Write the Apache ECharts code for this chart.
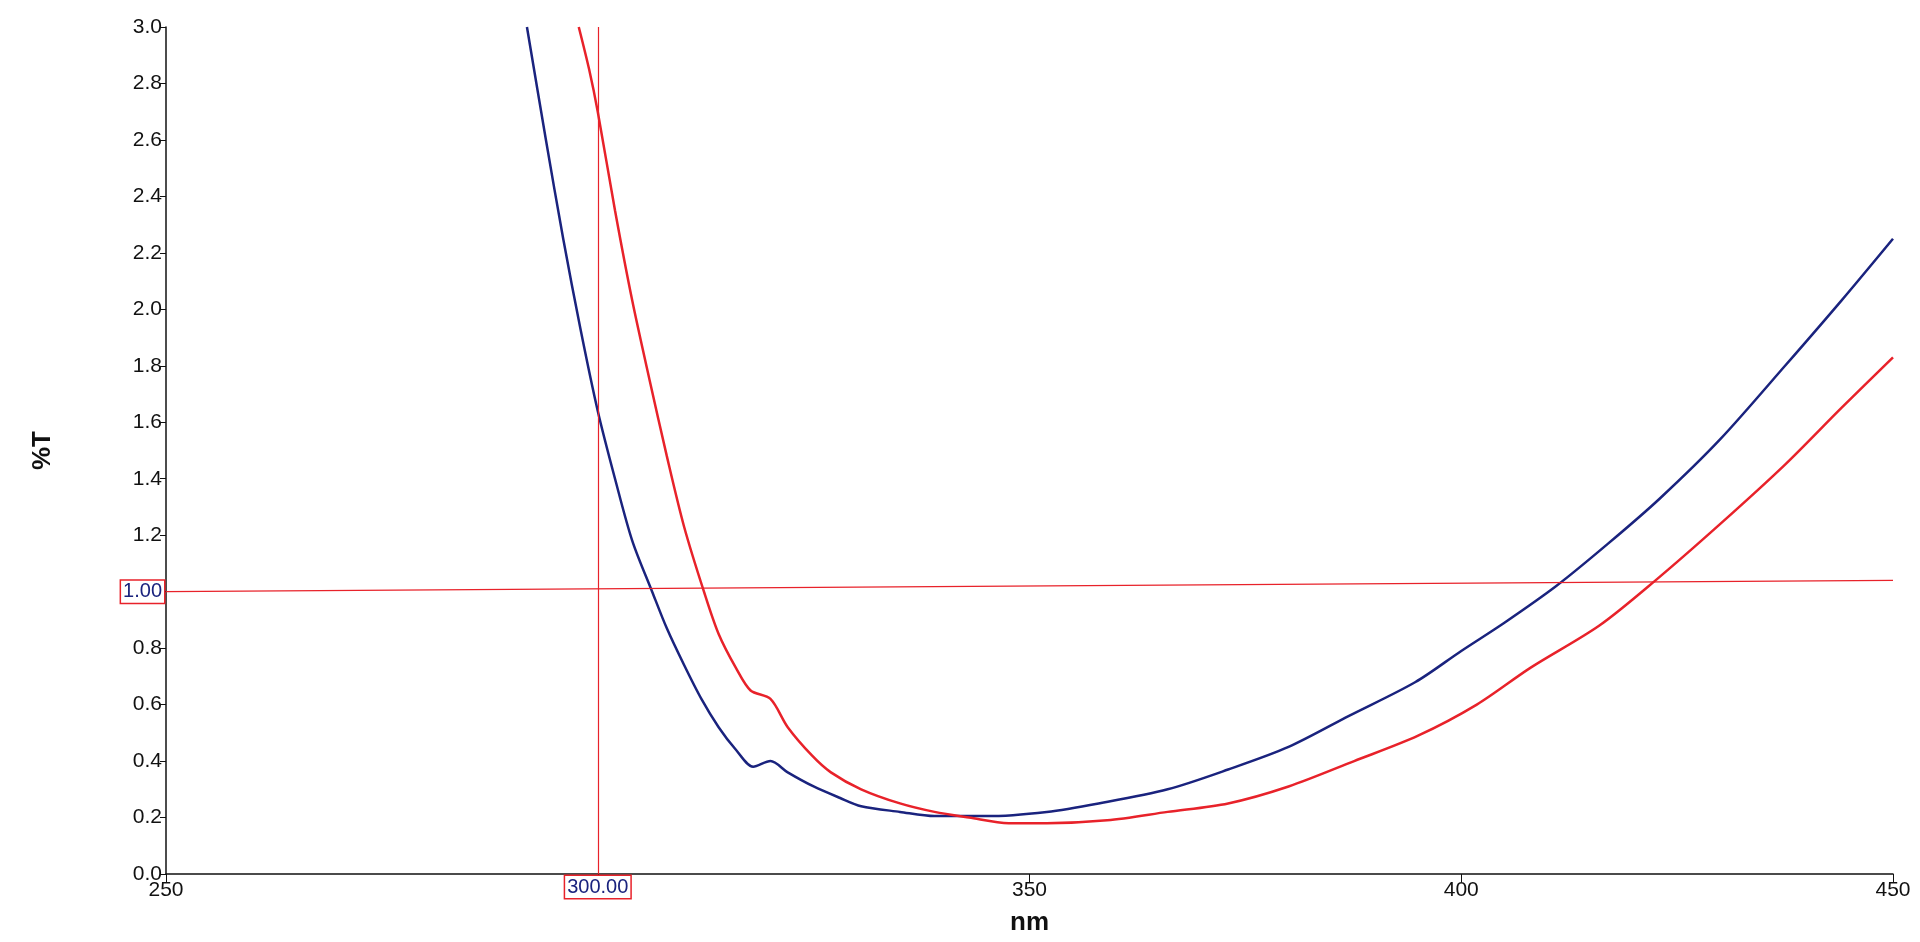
<!DOCTYPE html>
<html><head><meta charset="utf-8">
<script src="https://cdn.jsdelivr.net/npm/echarts@6/dist/echarts.min.js"></script>
<style>html,body{margin:0;background:#fff}#c{width:1920px;height:942px}</style>
</head><body><div id="c"></div>
<script>
const blueX = [291.8,294,296,298,300,302,304,306.3,308,310,312,314,316,318,320,322,325,328,330.5,335,339,345,352,358,366,373,380,387,394.7,400,405,411,417,423,430,437.5,444,450];
const blueY = [3.0,2.6,2.25,1.93,1.64,1.4,1.18,1.0,0.87,0.74,0.62,0.52,0.44,0.38,0.40,0.36,0.31,0.27,0.24,0.22,0.205,0.205,0.22,0.25,0.30,0.37,0.45,0.56,0.68,0.79,0.89,1.02,1.17,1.33,1.54,1.80,2.03,2.25];
const redX = [297.8,299,300,302,304,306,308,310,312.3,314,316,317.7,320,322,324.8,327,330.5,335,339,343,347.6,352,359,366,373,380,387.6,395,401.8,408,416,422.5,430,437.5,444,450];
const redY = [3.0,2.85,2.7,2.35,2.03,1.75,1.48,1.23,1.0,0.85,0.73,0.65,0.62,0.52,0.42,0.36,0.30,0.25,0.22,0.20,0.18,0.18,0.19,0.22,0.25,0.31,0.40,0.49,0.60,0.73,0.88,1.04,1.24,1.45,1.65,1.83];
const yTicks = [0,0.2,0.4,0.6,0.8,1.0,1.2,1.4,1.6,1.8,2.0,2.2,2.4,2.6,2.8,3.0];
const xTicks = [250,300,350,400,450];
const cursorX = 300, cursorY = 1.0;

const pair = (xs, ys) => xs.map((x, i) => [x, ys[i]]);
const chart = echarts.init(document.getElementById('c'));
const font = 'Liberation Sans, Arial, sans-serif';
chart.setOption({
  animation: false,
  backgroundColor: '#fff',
  grid: {left: 166, right: 27, top: 27, bottom: 68},
  xAxis: {
    type: 'value', min: 250, max: 450, interval: 50,
    name: 'nm', nameLocation: 'middle', nameGap: 36,
    nameTextStyle: {fontFamily: font, fontSize: 26, fontWeight: 'bold', color: '#111'},
    axisLine: {lineStyle: {color: '#111', width: 1.5}},
    axisTick: {show: true, length: 8, lineStyle: {color: '#111'}},
    axisLabel: {fontFamily: font, fontSize: 21, color: '#111', margin: 6,
      formatter: v => xTicks.includes(v) ? String(v) : ''},
    splitLine: {show: false}
  },
  yAxis: {
    type: 'value', min: 0, max: 3.0, interval: 0.2,
    name: '%T', nameLocation: 'middle', nameGap: 110, nameRotate: 90,
    nameTextStyle: {fontFamily: font, fontSize: 26, fontWeight: 'bold', color: '#111'},
    axisLine: {show: true, lineStyle: {color: '#111', width: 1.5}},
    axisTick: {show: true, length: 6, lineStyle: {color: '#111'}},
    axisLabel: {fontFamily: font, fontSize: 21, color: '#111', margin: 4,
      formatter: v => { const t = yTicks.find(k => Math.abs(k - v) < 1e-6); return t === undefined ? '' : t.toFixed(1); }},
    splitLine: {show: false}
  },
  series: [
    {type: 'line', data: pair(blueX, blueY), smooth: 0.3, showSymbol: false,
     lineStyle: {color: '#1a237e', width: 2.5}, z: 3},
    {type: 'line', data: pair(redX, redY), smooth: 0.3, showSymbol: false,
     lineStyle: {color: '#e8222a', width: 2.5}, z: 3,
     markLine: {
       silent: true, symbol: 'none', animation: false,
       lineStyle: {color: '#e8222a', width: 1.2, type: 'solid'},
       label: {show: true, fontFamily: font, fontSize: 20, color: '#1a237e',
         backgroundColor: '#fff', borderColor: '#e8222a', borderWidth: 1.5, padding: [1, 2]},
       data: [
         [{coord: [250, cursorY], label: {position: 'start', formatter: cursorY.toFixed(2), distance: 2}},
          {coord: [450, 1.04]}],
         {xAxis: cursorX, label: {position: 'start', formatter: cursorX.toFixed(2), distance: 2}}
       ]
     }}
  ]
});
</script></body></html>
